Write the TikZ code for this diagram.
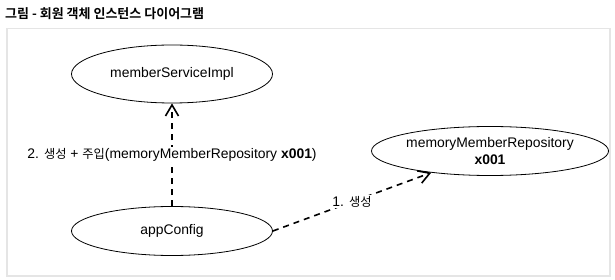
\documentclass[tikz,border=0pt]{standalone}
\usepackage{fontspec}
\setmainfont{Liberation Sans}
\newfontfamily\kr[Scale=0.88]{Noto Sans CJK KR}
\newfontfamily\krbold{Noto Sans CJK KR Bold}
\usepackage{tikz}
\usetikzlibrary{arrows.meta,shapes.geometric}

\begin{document}
\begin{tikzpicture}[
  x=1pt, y=-1pt,
  obj/.style={draw, ellipse, line width=0.8pt, inner sep=0pt, align=center,
    minimum width=201pt, font=\fontsize{13.9}{16.7}\selectfont},
  dep/.style={-{Straight Barb[length=11pt, width=13pt]}, line width=1.6pt,
    dash pattern=on 6pt off 5pt},
  lbl/.style={fill=white, inner sep=1pt, font=\fontsize{13.9}{16.7}\selectfont}
]
\useasboundingbox (0,0) rectangle (615,280);
\node[anchor=west, inner sep=0pt, font=\krbold\fontsize{13}{15}\selectfont] (title) at (5,14)
  {그림 - 회원 객체 인스턴스 다이어그램};
\node[draw=gray!20, line width=1.5pt, minimum width=603pt, minimum height=247pt,
  anchor=north west, inner sep=0pt] (frame) at (6,28) {};

\node[obj, minimum height=58pt] (msi) at (172,74) {memberServiceImpl};
\node[obj, minimum height=49pt] (repo) at (490,151)
  {memoryMemberRepository\\\textbf{x001}};
\node[obj, minimum height=49pt] (app) at (172,231) {appConfig};

\draw[dep] (app) -- (msi)
  node[lbl, midway] {2. {\kr 생성} + {\kr 주입}(memoryMemberRepository \textbf{x001})};
\draw[dep] (app.east) -- (repo)
  node[lbl, midway] {1. {\kr 생성}};
\end{tikzpicture}
\end{document}
